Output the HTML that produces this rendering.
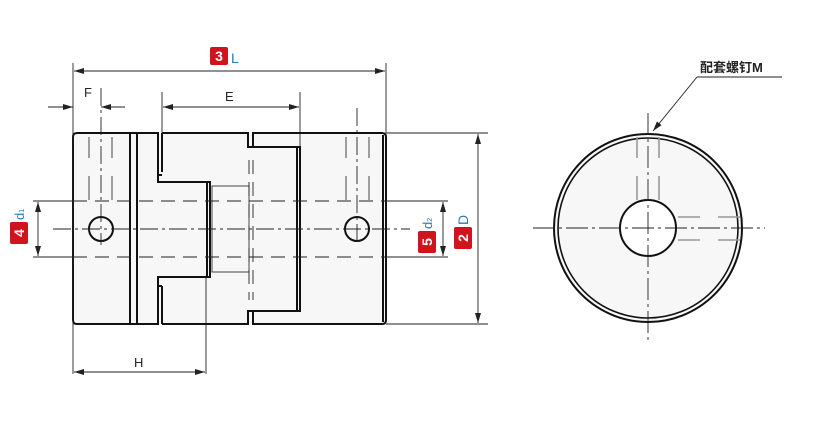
<!DOCTYPE html>
<html><head><meta charset="utf-8"><style>
html,body{margin:0;padding:0;background:#fff;}
svg{display:block}
text{font-family:"Liberation Sans","Noto Sans CJK SC",sans-serif;}
</style></head><body>
<svg width="820" height="428" viewBox="0 0 820 428" xmlns="http://www.w3.org/2000/svg">
<defs>
<marker id="a" viewBox="0 0 10 6" refX="10" refY="3" markerWidth="10" markerHeight="6" orient="auto-start-reverse" markerUnits="userSpaceOnUse"><path d="M0,0 L10,3 L0,6 z" fill="#222"/></marker>
</defs>
<rect width="820" height="428" fill="#fff"/>
<rect x="73" y="133" width="313" height="191" fill="#f7f7f7"/>
<g fill="none" stroke="#111" stroke-width="2">
<path d="M77,133 L158,133 L158,182 L210,182 L210,277 L158,277 L158,324 L77,324 Q73,324 73,320 L73,137 Q73,133 77,133 Z"/>
<line x1="130" y1="133" x2="130" y2="324"/>
<line x1="137" y1="133" x2="137" y2="324"/>
<line x1="207" y1="182" x2="207" y2="277"/>
<path d="M162,133 L248,133 L248,147 L300,147 L300,311 L248,311 L248,324 L162,324"/>
<line x1="162" y1="133" x2="162" y2="172"/>
<line x1="162" y1="286" x2="162" y2="324"/>
<line x1="158" y1="175" x2="162" y2="175"/>
<line x1="158" y1="286" x2="162" y2="286"/>
<line x1="297" y1="147" x2="297" y2="311"/>
<path d="M253,147 L253,133 L382,133 Q386,133 386,137 L386,320 Q386,324 382,324 L253,324 L253,311"/>
<line x1="383" y1="135" x2="383" y2="322"/>
<circle cx="101" cy="229" r="12"/>
<circle cx="357" cy="229" r="12"/>
</g>
<g stroke="#333" stroke-width="0.9" fill="none">
<rect x="212" y="186" width="37" height="86"/>
</g>
<g stroke="#888" stroke-width="1.6">
<line x1="89" y1="137" x2="89" y2="158"/><line x1="112" y1="137" x2="112" y2="158"/>
<line x1="89" y1="176" x2="89" y2="200"/><line x1="112" y1="176" x2="112" y2="200"/>
<line x1="346" y1="137" x2="346" y2="158"/><line x1="369" y1="137" x2="369" y2="158"/>
<line x1="346" y1="176" x2="346" y2="200"/><line x1="369" y1="176" x2="369" y2="200"/>
</g>
<g stroke="#222" stroke-width="0.9" stroke-dasharray="18,4,3,4">
<line x1="53" y1="229" x2="410" y2="229"/>
<line x1="101" y1="88" x2="101" y2="245"/>
<line x1="357" y1="108" x2="357" y2="245"/>
</g>
<g stroke="#222" stroke-width="0.9" stroke-dasharray="14,8">
<line x1="73" y1="201" x2="386" y2="201"/>
<line x1="73" y1="257" x2="386" y2="257"/>
<line x1="249" y1="160" x2="249" y2="300"/>
<line x1="253" y1="160" x2="253" y2="300"/>
</g>
<g stroke="#222" stroke-width="0.9" fill="none">
<line x1="73" y1="63" x2="73" y2="374"/>
<line x1="386" y1="63" x2="386" y2="133"/>
<line x1="74" y1="71" x2="385" y2="71" marker-start="url(#a)" marker-end="url(#a)"/>
<line x1="48" y1="107" x2="73" y2="107"/>
<line x1="101" y1="107" x2="125" y2="107"/>
<line x1="60" y1="107" x2="73" y2="107" marker-end="url(#a)"/>
<line x1="115" y1="107" x2="101" y2="107" marker-end="url(#a)"/>
<line x1="162" y1="92" x2="162" y2="133"/>
<line x1="300" y1="92" x2="300" y2="147"/>
<line x1="163" y1="107" x2="299" y2="107" marker-start="url(#a)" marker-end="url(#a)"/>
<line x1="386" y1="133" x2="488" y2="133"/>
<line x1="386" y1="324" x2="488" y2="324"/>
<line x1="478" y1="134" x2="478" y2="323" marker-start="url(#a)" marker-end="url(#a)"/>
<line x1="33" y1="201" x2="73" y2="201"/>
<line x1="33" y1="257" x2="73" y2="257"/>
<line x1="38" y1="202" x2="38" y2="256" marker-start="url(#a)" marker-end="url(#a)"/>
<line x1="386" y1="201" x2="448" y2="201"/>
<line x1="386" y1="257" x2="448" y2="257"/>
<line x1="443" y1="202" x2="443" y2="256" marker-start="url(#a)" marker-end="url(#a)"/>
<line x1="206" y1="277" x2="206" y2="374"/>
<line x1="74" y1="372" x2="205" y2="372" marker-start="url(#a)" marker-end="url(#a)"/>
</g>
<g font-size="13" fill="#222">
<text x="84" y="97">F</text>
<text x="225" y="101">E</text>
<text x="134" y="367">H</text>
</g>
<rect x="210" y="47" width="18" height="18" rx="2" fill="#d0141c"/>
<text x="219" y="61" font-size="14" font-weight="bold" fill="#fff" text-anchor="middle">3</text>
<text x="231" y="63" font-size="14" fill="#2a7ab8">L</text>
<g transform="translate(19,233) rotate(-90)">
<rect x="-11" y="-9" width="22" height="18" rx="2" fill="#d0141c"/>
<text x="0" y="5" font-size="14" font-weight="bold" fill="#fff" text-anchor="middle">4</text>
<text x="13" y="5" font-size="13" fill="#2a7ab8">d<tspan font-size="7">1</tspan></text>
</g>
<g transform="translate(427,242) rotate(-90)">
<rect x="-11" y="-9" width="22" height="18" rx="2" fill="#d0141c"/>
<text x="0" y="5" font-size="14" font-weight="bold" fill="#fff" text-anchor="middle">5</text>
<text x="13" y="5" font-size="13" fill="#2a7ab8">d<tspan font-size="7">2</tspan></text>
</g>
<g transform="translate(463,238) rotate(-90)">
<rect x="-11" y="-9" width="22" height="18" rx="2" fill="#d0141c"/>
<text x="0" y="5" font-size="14" font-weight="bold" fill="#fff" text-anchor="middle">2</text>
<text x="13" y="5" font-size="14" fill="#2a7ab8">D</text>
</g>
<circle cx="648" cy="228" r="94" fill="#f7f7f7" stroke="#111" stroke-width="2"/>
<circle cx="648" cy="228" r="90" fill="none" stroke="#111" stroke-width="1.6"/>
<circle cx="648" cy="228" r="28" fill="#fff" stroke="#111" stroke-width="2"/>
<g stroke="#999" stroke-width="1.6">
<line x1="637" y1="137" x2="637" y2="158"/><line x1="659" y1="137" x2="659" y2="158"/>
<line x1="637" y1="176" x2="637" y2="200"/><line x1="659" y1="176" x2="659" y2="200"/>
<line x1="678" y1="217" x2="700" y2="217"/><line x1="678" y1="240" x2="700" y2="240"/>
<line x1="718" y1="217" x2="740" y2="217"/><line x1="718" y1="240" x2="740" y2="240"/>
</g>
<g stroke="#222" stroke-width="0.9" stroke-dasharray="22,4,3,4">
<line x1="533" y1="228" x2="765" y2="228"/>
<line x1="648" y1="113" x2="648" y2="342"/>
</g>
<line x1="697" y1="77" x2="782" y2="77" stroke="#222" stroke-width="0.9"/>
<line x1="697" y1="77" x2="653" y2="131" stroke="#222" stroke-width="0.9" marker-end="url(#a)"/>
<text x="700" y="72" font-size="13" font-weight="bold" fill="#222">配套螺钉M</text>
</svg>
</body></html>
